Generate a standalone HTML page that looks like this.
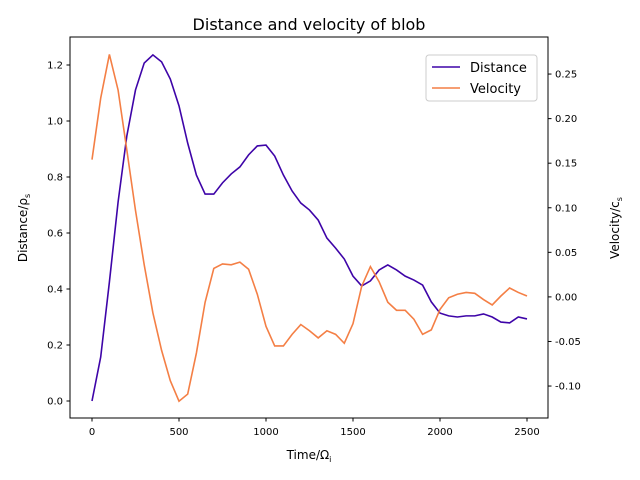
<!DOCTYPE html>
<html><head><meta charset="utf-8"><style>body{margin:0;background:#fff}svg{display:block;font-family:"DejaVu Sans","Liberation Sans",sans-serif}</style></head>
<body>
<svg id="chart" width="640" height="480" xmlns="http://www.w3.org/2000/svg">
<rect width="640" height="480" fill="#fff"/>
<text x="309" y="30" font-size="16" text-anchor="middle">Distance and velocity of blob</text>
<g id="axes"></g>
<rect x="70" y="37" width="478" height="381" fill="none" stroke="#000" stroke-width="1"/>
<g>
<rect x="426" y="55" width="111" height="46" rx="3" fill="#fff" stroke="#ccc"/>
<line x1="432" y1="67" x2="460" y2="67" stroke="#3e04a8" stroke-width="1.6"/>
<text x="470" y="72" font-size="13">Distance</text>
<line x1="432" y1="88" x2="460" y2="88" stroke="#f47f45" stroke-width="1.6"/>
<text x="470" y="93" font-size="13">Velocity</text>
</g>
</svg>
<script>
const times=[];for(let i=0;i<=50;i++)times.push(i*50);
const distance=[0,0.157,0.425,0.711,0.946,1.111,1.207,1.236,1.211,1.15,1.054,0.921,0.807,0.739,0.739,0.779,0.811,0.836,0.879,0.911,0.914,0.875,0.807,0.75,0.707,0.682,0.646,0.582,0.546,0.507,0.446,0.411,0.429,0.468,0.486,0.468,0.446,0.432,0.414,0.354,0.314,0.304,0.3,0.304,0.304,0.311,0.3,0.282,0.279,0.3,0.293];
const velocity=[0.154,0.223,0.272,0.232,0.165,0.097,0.036,-0.018,-0.060,-0.094,-0.117,-0.109,-0.063,-0.006,0.032,0.037,0.036,0.039,0.031,0.003,-0.033,-0.055,-0.055,-0.042,-0.031,-0.038,-0.046,-0.038,-0.042,-0.052,-0.030,0.012,0.034,0.017,-0.006,-0.015,-0.015,-0.025,-0.042,-0.037,-0.014,-0.001,0.003,0.005,0.004,-0.003,-0.009,0.001,0.010,0.005,0.001];
const xTicks=[0,500,1000,1500,2000,2500];
const yLeftTicks=[0,0.2,0.4,0.6,0.8,1.0,1.2];
const yRightTicks=[-0.10,-0.05,0,0.05,0.10,0.15,0.20,0.25];
const X=t=>92+t*0.174, YL=d=>401-d*280, YR=v=>296.9-v*891.4;
const NS="http://www.w3.org/2000/svg",g=document.getElementById('axes');
function mk(tag,a,p){const e=document.createElementNS(NS,tag);for(const k in a)e.setAttribute(k,a[k]);(p||g).appendChild(e);return e;}
xTicks.forEach(t=>{const x=X(t);
const l=mk('line',{x1:x,x2:x,y1:418,y2:421.5,stroke:'#000'});


const s=mk('text',{x:x,y:435,'font-size':10,'text-anchor':'middle'});s.textContent=t;

});
yLeftTicks.forEach(d=>{const y=YL(d);
mk('line',{x1:66.5,x2:70,y1:y,y2:y,stroke:'#000'});
const s=mk('text',{x:63,y:y+3.5,'font-size':10,'text-anchor':'end'});s.textContent=d.toFixed(1);

});
yRightTicks.forEach(v=>{const y=YR(v);
mk('line',{x1:548,x2:551.5,y1:y,y2:y,stroke:'#000'});
const s=mk('text',{x:555,y:y+3.5,'font-size':10});s.textContent=v.toFixed(2);

});
let t=mk('text',{x:309,y:459,'font-size':12,'text-anchor':'middle'});t.innerHTML='Time/Ω<tspan font-size="8" dy="3">i</tspan>';


t=mk('text',{x:0,y:0,'font-size':12,'text-anchor':'middle',transform:'translate(27,228) rotate(-90)'});t.innerHTML='Distance/ρ<tspan font-size="8" dy="3">s</tspan>';


t=mk('text',{x:0,y:0,'font-size':12,'text-anchor':'middle',transform:'translate(619,228) rotate(-90)'});t.innerHTML='Velocity/c<tspan font-size="8" dy="3">s</tspan>';


const pd=mk('polyline',{points:times.map((x,i)=>X(x)+','+YL(distance[i])).join(' '),fill:'none',stroke:'#3e04a8','stroke-width':1.6});


const pv=mk('polyline',{points:times.map((x,i)=>X(x)+','+YR(velocity[i])).join(' '),fill:'none',stroke:'#f47f45','stroke-width':1.6});


</script>
</body></html>
